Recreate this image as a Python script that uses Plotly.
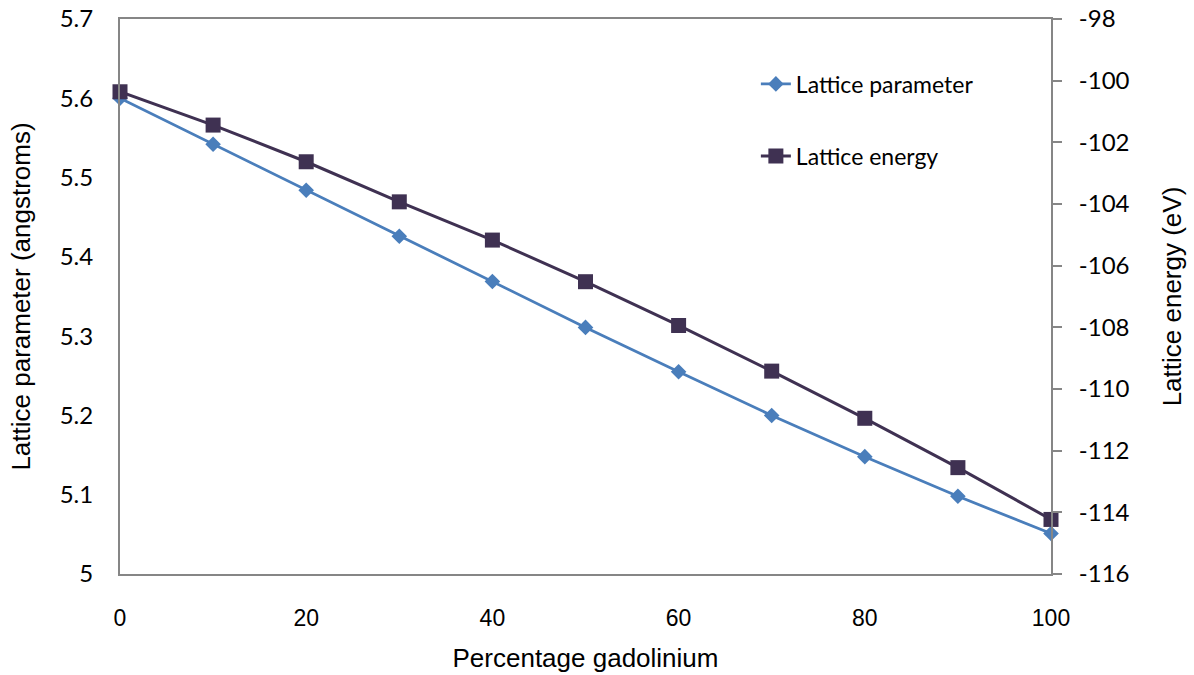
import plotly.graph_objects as go

gd_percent = [0, 10, 20, 30, 40, 50, 60, 70, 80, 90, 100]
lattice_parameter = [5.600, 5.542, 5.484, 5.426, 5.369, 5.311, 5.255, 5.200, 5.148, 5.098, 5.051]
lattice_energy = [-100.36, -101.44, -102.63, -103.93, -105.17, -106.52, -107.94, -109.42, -110.95, -112.55, -114.23]

left_ticks = [5, 5.1, 5.2, 5.3, 5.4, 5.5, 5.6, 5.7]
left_labels = ["5", "5.1", "5.2", "5.3", "5.4", "5.5", "5.6", "5.7"]
right_ticks = [-116, -114, -112, -110, -108, -106, -104, -102, -100, -98]
right_labels = ["-116", "-114", "-112", "-110", "-108", "-106", "-104", "-102", "-100", "-98"]
x_ticks = [0, 20, 40, 60, 80, 100]

blue = "#4A7EBB"
dark = "#3F3152"
axis_gray = "#868686"
tick_font = dict(family="Lato, Calibri, sans-serif", size=24, color="#000000")
legend_font = dict(family="Lato, Calibri, sans-serif", size=23, color="#000000")
title_font = dict(family="Liberation Sans, Arial, sans-serif", size=26, color="#000000")

fig = go.Figure()
fig.add_trace(go.Scatter(
    x=gd_percent, y=lattice_parameter, name="Lattice parameter",
    mode="lines+markers",
    line=dict(color=blue, width=2.8),
    marker=dict(symbol="diamond", size=12, color=blue),
    legend="legend", cliponaxis=False,
))
fig.add_trace(go.Scatter(
    x=gd_percent, y=lattice_energy, name="Lattice energy",
    mode="lines+markers", yaxis="y2",
    line=dict(color=dark, width=3),
    marker=dict(symbol="square", size=15, color=dark),
    legend="legend2", cliponaxis=False,
))

fig.update_layout(
    width=1194, height=675,
    margin=dict(l=120, r=143, t=19, b=101),
    paper_bgcolor="white", plot_bgcolor="white",
    showlegend=True,
    xaxis=dict(
        range=[0, 100], tickvals=x_ticks, showgrid=False, zeroline=False,
        showline=True, linecolor=axis_gray, linewidth=2, mirror=True,
        ticks="", ticklabelstandoff=22, automargin=False,
        tickfont=dict(family="Liberation Sans, Arial, sans-serif", size=23, color="#000000"),
        title=dict(text="Percentage gadolinium", font=title_font, standoff=19),
    ),
    yaxis=dict(
        range=[5, 5.7], tickvals=left_ticks, ticktext=left_labels,
        showgrid=False, zeroline=False, automargin=False,
        showline=True, linecolor=axis_gray, linewidth=2,
        ticks="", ticklabelstandoff=20, tickfont=tick_font,
        title=dict(text="Lattice parameter (angstroms)", font=title_font, standoff=22),
    ),
    yaxis2=dict(
        range=[-116, -98], tickvals=right_ticks, ticktext=right_labels,
        overlaying="y", side="right", automargin=False,
        showgrid=False, zeroline=False,
        showline=True, linecolor=axis_gray, linewidth=2,
        ticks="outside", ticklen=9, tickwidth=2, tickcolor=axis_gray,
        ticklabelstandoff=12, tickfont=tick_font,
        title=dict(text="Lattice energy (eV)", font=title_font, standoff=34),
    ),
    legend=dict(x=0.683, y=0.883, xanchor="left", yanchor="middle",
                bgcolor="rgba(0,0,0,0)", font=legend_font),
    legend2=dict(x=0.683, y=0.753, xanchor="left", yanchor="middle",
                 bgcolor="rgba(0,0,0,0)", font=legend_font),
)

fig.write_html("out.html")
